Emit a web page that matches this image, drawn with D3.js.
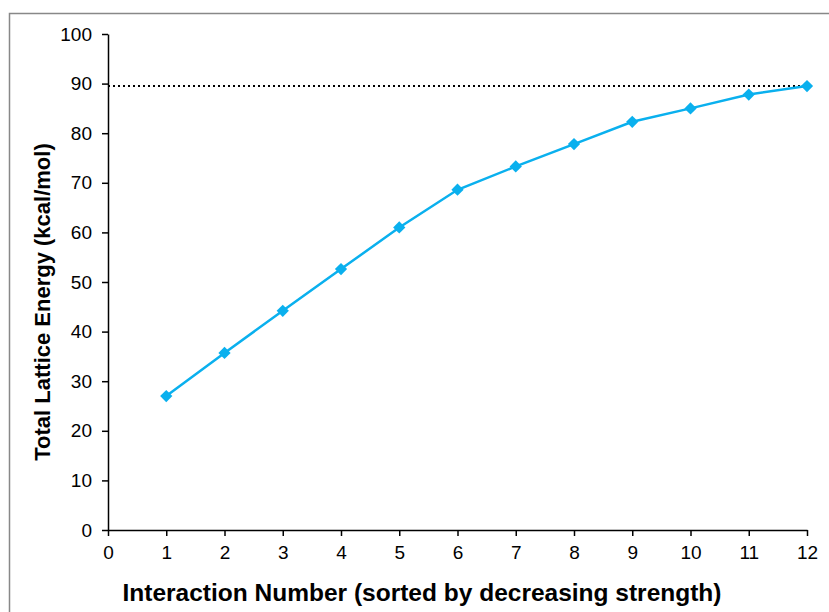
<!DOCTYPE html>
<html><head><meta charset="utf-8">
<script src="https://cdn.jsdelivr.net/npm/d3@7"></script>
<style>body{margin:0;background:#fff;}svg{display:block;font-family:"Liberation Sans",Arial,sans-serif;}</style>
</head><body>
<svg id="c" width="829" height="612"></svg>
<script>
const interactions = [1,2,3,4,5,6,7,8,9,10,11,12];
const energies = [27.0,35.7,44.2,52.6,61.0,68.6,73.3,77.8,82.3,85.0,87.8,89.5];
const totalEnergy = 89.5;
const xTicks = [0,1,2,3,4,5,6,7,8,9,10,11,12];
const yTicks = [0,10,20,30,40,50,60,70,80,90,100];

const svg = d3.select("#c");
svg.append("rect").attr("x",9.5).attr("y",13.5).attr("width",840).attr("height",640)
  .attr("fill","none").attr("stroke","#888").attr("stroke-width",1.5);

const x = d3.scaleLinear().domain([0,12]).range([108,807]);
const y = d3.scaleLinear().domain([0,100]).range([530,34]);

const xa = svg.append("g").attr("transform","translate(0,530)")
  .call(d3.axisBottom(x).tickValues(xTicks).tickSize(6).tickPadding(10).tickSizeOuter(0));
const ya = svg.append("g").attr("transform","translate(108,0)")
  .call(d3.axisLeft(y).tickValues(yTicks).tickSize(6).tickPadding(10).tickSizeOuter(0));
[xa,ya].forEach(a=>{
  a.attr("font-size",null).attr("font-family",null);
  a.selectAll("path,line").attr("stroke","#000").attr("stroke-width",1.5);
  a.selectAll("text").style("font-size","19px").attr("fill","#000").style("font-family","Liberation Sans, Arial, sans-serif");
});

svg.append("line").attr("x1",x(0)).attr("x2",x(12)).attr("y1",y(totalEnergy)).attr("y2",y(totalEnergy))
  .attr("stroke","#000").attr("stroke-width",2).attr("stroke-dasharray","2,3");

const data = interactions.map((d,i)=>({x:d,y:energies[i]}));
svg.append("path").datum(data).attr("fill","none").attr("stroke","#0AB0EE").attr("stroke-width",2.5)
  .attr("d",d3.line().x(d=>x(d.x)).y(d=>y(d.y)));
svg.selectAll(".m").data(data).enter().append("path")
  .attr("d",d3.symbol(d3.symbolSquare,75)())
  .attr("transform",d=>`translate(${x(d.x)},${y(d.y)}) rotate(45)`)
  .attr("fill","#0AB0EE");

svg.append("text").attr("x",422).attr("y",601).attr("text-anchor","middle")
  .attr("font-size",24.5).attr("font-weight","bold").text("Interaction Number (sorted by decreasing strength)");
svg.append("text").attr("transform","translate(50,302) rotate(-90)").attr("text-anchor","middle")
  .attr("font-size",22).attr("font-weight","bold").text("Total Lattice Energy (kcal/mol)");
</script>
</body></html>
